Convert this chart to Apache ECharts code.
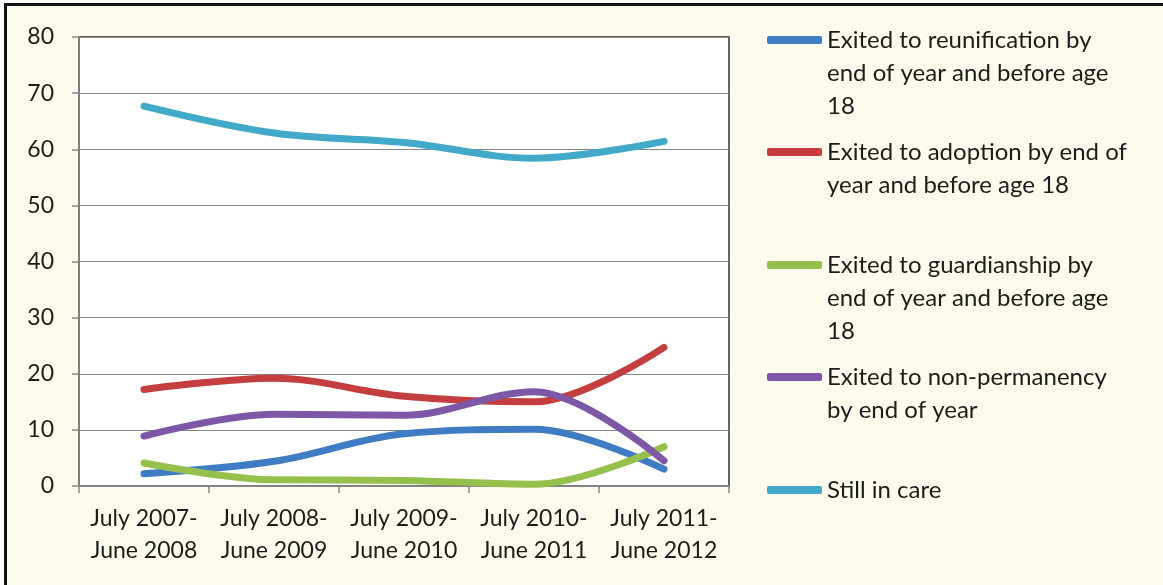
<!DOCTYPE html>
<html>
<head>
<meta charset="utf-8">
<script src="https://cdn.jsdelivr.net/npm/echarts@6/dist/echarts.min.js"></script>
<style>
  html, body { margin: 0; padding: 0; background: #ffffff; }
  #frame {
    position: absolute; left: 4px; top: 3px; width: 1159px; height: 582px;
    border-left: 3px solid #111; border-top: 3px solid #111;
    box-sizing: border-box; background: #fcfaec;
  }
  #chart { position: absolute; left: 0; top: 0; width: 1163px; height: 585px; }
</style>
</head>
<body>
<div id="frame"></div>
<div id="chart"></div>
<script>
// Periods (fiscal years) on the x axis
const periods = [
  'July 2007-\nJune 2008',
  'July 2008-\nJune 2009',
  'July 2009-\nJune 2010',
  'July 2010-\nJune 2011',
  'July 2011-\nJune 2012'
];

// Percent of children by outcome
const reunification   = [2.2, 4.4, 9.3, 10.1, 3.0];
const adoption        = [17.2, 19.2, 16.0, 15.0, 24.7];
const guardianship    = [4.1, 1.1, 1.0, 0.3, 7.0];
const nonPermanency   = [8.9, 12.8, 12.6, 16.8, 4.5];
const stillInCare     = [67.7, 62.9, 61.2, 58.4, 61.4];

// Legend names (wrapped as shown)
const seriesNames = [
  'Exited to reunification by\nend of year and before age\n18',
  'Exited to adoption by end of\nyear and before age 18',
  'Exited to guardianship by\nend of year and before age\n18',
  'Exited to non-permanency\nby end of year',
  'Still in care'
];
const seriesValues = [reunification, adoption, guardianship, nonPermanency, stillInCare];
const colors = ['#3f7cc4', '#c43e40', '#96c04e', '#7c58a6', '#42a9c9'];

const FONT = 'Lato';
const LH = 33;
// vertical centre of each legend entry's first line
const legendCentres = [40, 152, 265, 377, 490];

// One legend per entry; blank leading lines keep the swatch level with the first text line
const legends = seriesNames.map(function (name, i) {
  const n = name.split('\n').length;
  return {
    data: [name],
    orient: 'vertical',
    left: 767,
    top: legendCentres[i] - (2 * n - 1) * LH / 2,
    padding: 0,
    icon: 'roundRect',
    itemWidth: 55,
    itemHeight: 8,
    selectedMode: false,
    formatter: function (label) {
      return '\n'.repeat(n - 1) + label;
    },
    textStyle: {
      fontFamily: FONT,
      fontSize: 24,
      color: '#1c1c1c',
      lineHeight: LH
    }
  };
});

const chart = echarts.init(document.getElementById('chart'), null, { renderer: 'canvas' });
chart.setOption({
  backgroundColor: 'transparent',
  animation: false,
  color: colors,
  legend: legends,
  grid: {
    left: 79, right: 434, top: 37, bottom: 99,
    show: true, backgroundColor: '#ffffff',
    borderColor: '#333333', borderWidth: 1.5
  },
  xAxis: {
    type: 'category',
    data: periods,
    boundaryGap: true,
    axisLine: { lineStyle: { color: '#868686', width: 1.5 } },
    axisTick: { show: true, length: 7, lineStyle: { color: '#868686', width: 1.5 } },
    axisLabel: {
      interval: 0, hideOverlap: false,
      fontFamily: FONT, fontSize: 23, color: '#1c1c1c',
      lineHeight: 32, margin: 17
    }
  },
  yAxis: {
    type: 'value',
    min: 0, max: 80, interval: 10,
    axisLine: { show: true, lineStyle: { color: '#868686', width: 1.5 } },
    axisTick: { show: true, length: 7, lineStyle: { color: '#868686', width: 1.5 } },
    splitLine: { lineStyle: { color: '#868686', width: 1.2 } },
    axisLabel: { fontFamily: FONT, fontSize: 23, color: '#1c1c1c', margin: 25 }
  },
  series: seriesValues.map(function (vals, i) {
    return {
      name: seriesNames[i],
      type: 'line',
      data: vals,
      smooth: 0.35,
      symbol: 'none',
      lineStyle: { width: 7, cap: 'round', join: 'round', color: colors[i] }
    };
  })
});
</script>
</body>
</html>
